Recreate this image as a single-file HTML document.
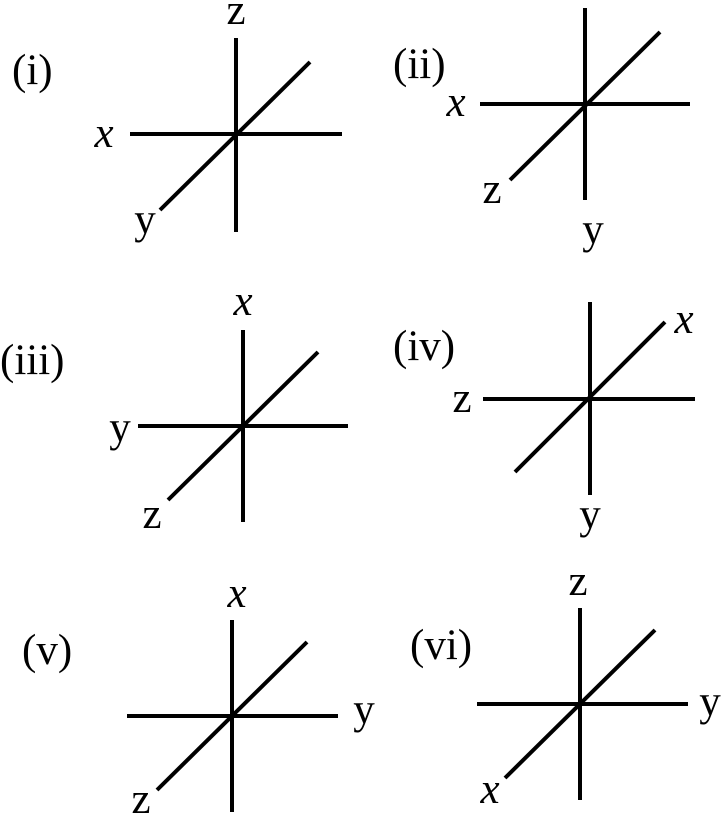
<!DOCTYPE html>
<html><head><style>html,body{margin:0;padding:0;background:#fff}</style></head><body>
<svg width="725" height="817" xmlns="http://www.w3.org/2000/svg" font-family="Liberation Serif, serif" font-size="43" fill="#000">
<g stroke="#000" stroke-width="4">
<line x1="236" y1="38" x2="236" y2="232"/><line x1="130" y1="134" x2="342" y2="134"/><line x1="160" y1="210" x2="310" y2="62"/>
<line x1="585" y1="8" x2="585" y2="200"/><line x1="480" y1="104" x2="690" y2="104"/><line x1="510" y1="180" x2="660" y2="32"/>
<line x1="243" y1="330" x2="243" y2="522"/><line x1="138" y1="426" x2="348" y2="426"/><line x1="168" y1="500" x2="318" y2="352"/>
<line x1="590" y1="302" x2="590" y2="495"/><line x1="483" y1="399" x2="695" y2="399"/><line x1="515" y1="472" x2="665" y2="322"/>
<line x1="232" y1="620" x2="232" y2="812"/><line x1="127" y1="716" x2="338" y2="716"/><line x1="157" y1="790" x2="307" y2="642"/>
<line x1="580" y1="608" x2="580" y2="800"/><line x1="477" y1="704" x2="688" y2="704"/><line x1="505" y1="778" x2="655" y2="630"/>
</g>
<text x="12" y="84">(i)</text><text x="236" y="24" text-anchor="middle">z</text><text x="104" y="147" text-anchor="middle" font-style="italic">x</text><text x="145" y="233" text-anchor="middle">y</text>
<text x="393" y="78">(ii)</text><text x="456" y="116" text-anchor="middle" font-style="italic">x</text><text x="492" y="203" text-anchor="middle">z</text><text x="593" y="243" text-anchor="middle">y</text>
<text x="0" y="374">(iii)</text><text x="243" y="315" text-anchor="middle" font-style="italic">x</text><text x="120" y="441" text-anchor="middle">y</text><text x="152" y="528" text-anchor="middle">z</text>
<text x="393" y="360">(iv)</text><text x="684" y="333" text-anchor="middle" font-style="italic">x</text><text x="462" y="412" text-anchor="middle">z</text><text x="590" y="528" text-anchor="middle">y</text>
<text x="22" y="664">(v)</text><text x="237" y="607" text-anchor="middle" font-style="italic">x</text><text x="364" y="723" text-anchor="middle">y</text><text x="141" y="813" text-anchor="middle">z</text>
<text x="410" y="659">(vi)</text><text x="578" y="595" text-anchor="middle">z</text><text x="710" y="715" text-anchor="middle">y</text><text x="490" y="803" text-anchor="middle" font-style="italic">x</text>
</svg>
</body></html>
